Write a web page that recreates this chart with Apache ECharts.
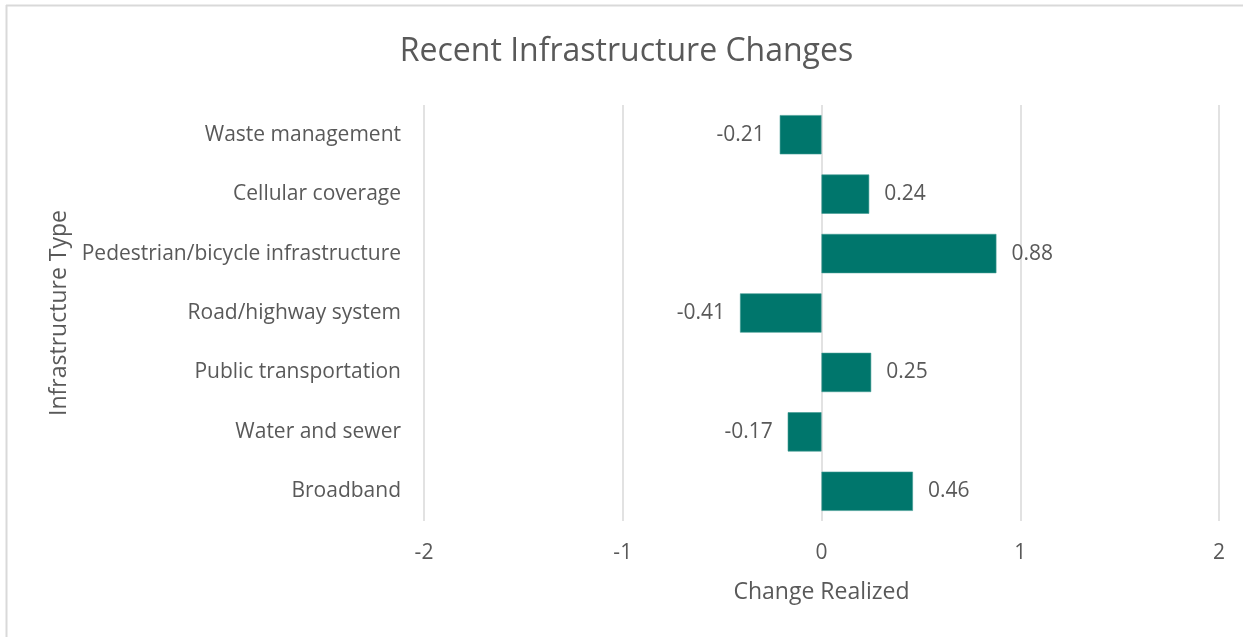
<!DOCTYPE html>
<html>
<head>
<meta charset="utf-8">
<script src="https://cdn.jsdelivr.net/npm/echarts@6/dist/echarts.min.js"></script>
<style>
  html, body { margin: 0; padding: 0; background: #fff; }
  #chart { width: 1253px; height: 637px; }
</style>
</head>
<body>
<div id="chart"></div>
<script>
// Categories listed bottom-to-top as they appear on the axis
const categories = [
  'Broadband',
  'Water and sewer',
  'Public transportation',
  'Road/highway system',
  'Pedestrian/bicycle infrastructure',
  'Cellular coverage',
  'Waste management'
];
const changeValues = [0.46, -0.17, 0.25, -0.41, 0.88, 0.24, -0.21];
const xTicks = [-2, -1, 0, 1, 2];

const TEXT = '#595959';
const FONT = 'Open Sans';
const BAR = '#00766C';

const chart = echarts.init(document.getElementById('chart'), null, { renderer: 'canvas' });

const barData = changeValues.map(v => ({
  value: v,
  label: { position: v < 0 ? 'left' : 'right' }
}));

chart.setOption({
  backgroundColor: '#ffffff',
  animation: false,
  title: {
    text: 'Recent Infrastructure Changes',
    left: 'center',
    top: 31,
    textStyle: { color: TEXT, fontFamily: FONT, fontSize: 32, fontWeight: 'normal' }
  },
  graphic: [
    { type: 'line', shape: { x1: 6.5, y1: 5, x2: 6.5, y2: 637 }, style: { stroke: '#d9d9d9', lineWidth: 2 } },
    { type: 'line', shape: { x1: 6, y1: 5.5, x2: 1243, y2: 5.5 }, style: { stroke: '#d9d9d9', lineWidth: 2 } }
  ],
  grid: { left: 424, right: 34, top: 105, bottom: 116, containLabel: false },
  xAxis: {
    type: 'value',
    min: xTicks[0],
    max: xTicks[xTicks.length - 1],
    interval: 1,
    name: 'Change Realized',
    nameLocation: 'middle',
    nameGap: 60,
    nameTextStyle: { color: TEXT, fontFamily: FONT, fontSize: 23 },
    axisLine: { show: false },
    axisTick: { show: false },
    axisLabel: { color: TEXT, fontFamily: FONT, fontSize: 21, margin: 22 },
    splitLine: { show: true, lineStyle: { color: '#d9d9d9', width: 1.5 } }
  },
  yAxis: {
    type: 'category',
    data: categories,
    name: 'Infrastructure Type',
    nameLocation: 'middle',
    nameGap: 350,
    nameRotate: 90,
    nameTextStyle: { color: TEXT, fontFamily: FONT, fontSize: 23 },
    axisLine: { show: false },
    axisTick: { show: false },
    axisLabel: { color: TEXT, fontFamily: FONT, fontSize: 21, margin: 23, padding: [3, 0, 0, 0] },
    splitLine: { show: false }
  },
  series: [{
    type: 'bar',
    data: barData,
    barCategoryGap: '34%',
    itemStyle: { color: BAR, borderColor: '#3f9a92', borderWidth: 0.6 },
    label: {
      show: true,
      distance: 15,
      color: TEXT,
      fontFamily: FONT,
      fontSize: 21,
      padding: [2, 0, 0, 0],
      formatter: p => p.value.toFixed(2)
    }
  }]
});
</script>
</body>
</html>
